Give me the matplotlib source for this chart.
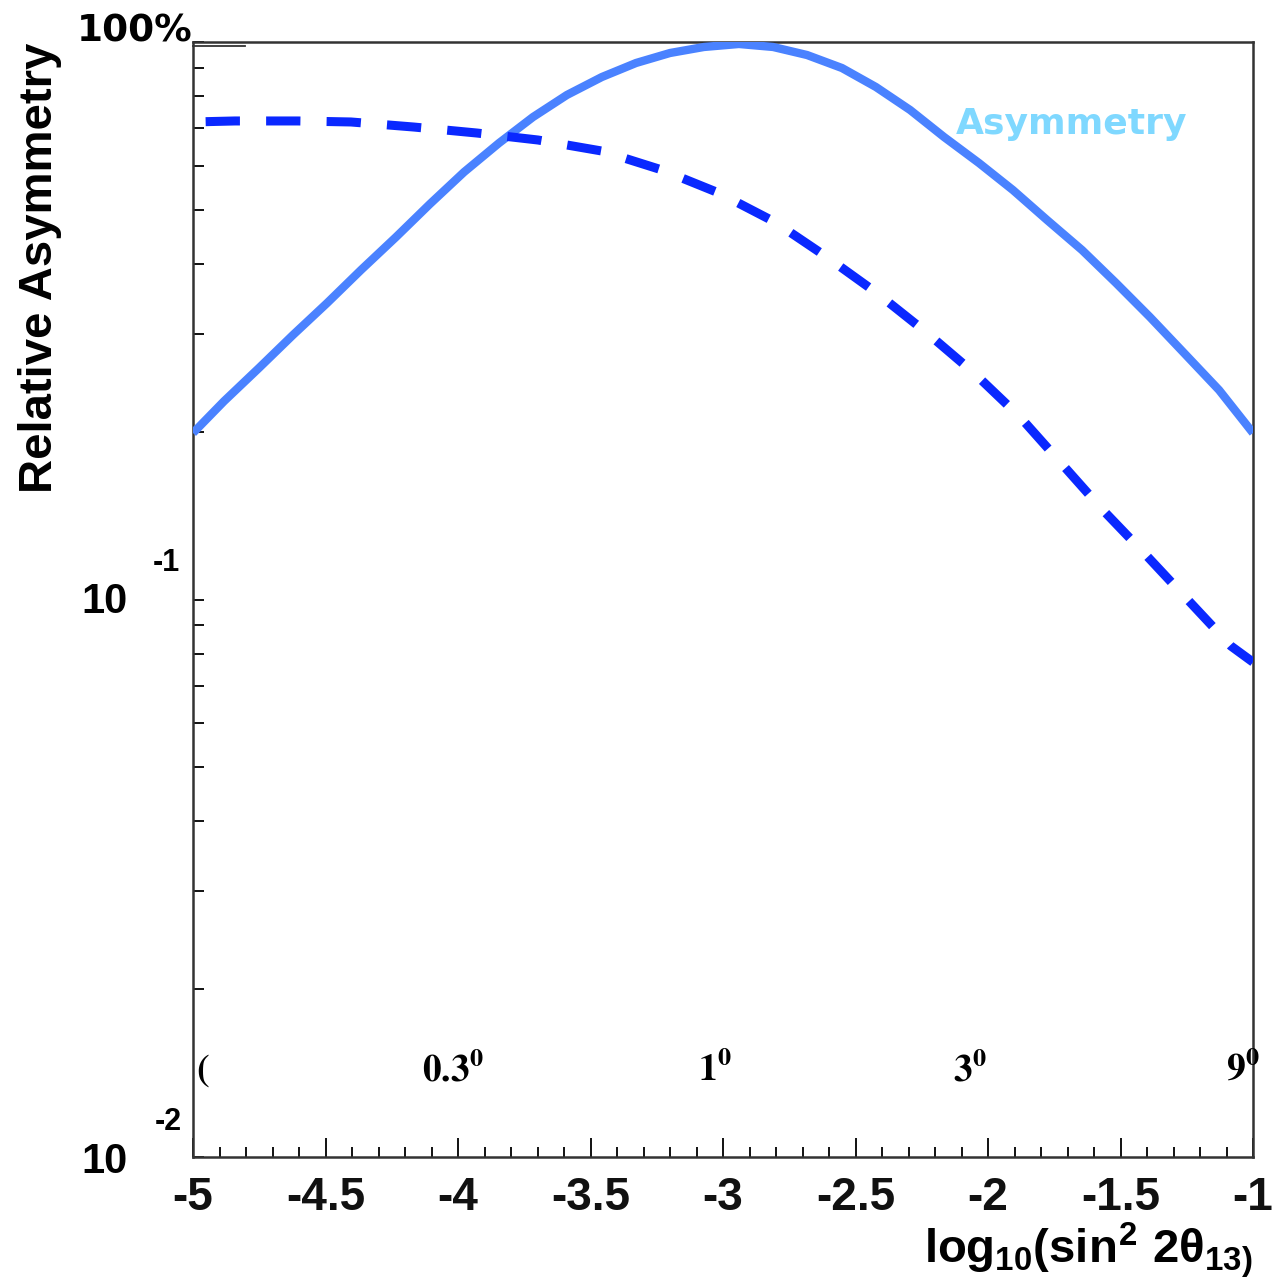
import numpy as np
import matplotlib
matplotlib.use("Agg")
import matplotlib.pyplot as plt
from matplotlib.ticker import MultipleLocator, LogLocator, NullFormatter, FixedLocator
from matplotlib.transforms import blended_transform_factory

plt.rcParams['mathtext.fontset'] = 'custom'
plt.rcParams['mathtext.rm'] = 'Liberation Sans:bold'
plt.rcParams['mathtext.it'] = 'Liberation Sans:bold'
plt.rcParams['mathtext.bf'] = 'Liberation Sans:bold'

# ---- data ----
solid_x = [-5.0, -4.883, -4.751, -4.623, -4.494, -4.366, -4.234, -4.106, -3.977,
           -3.845, -3.717, -3.589, -3.457, -3.328, -3.200, -3.072, -2.94, -2.811,
           -2.683, -2.551, -2.423, -2.294, -2.166, -2.034, -1.906, -1.777, -1.645,
           -1.517, -1.389, -1.260, -1.128, -1.0]
solid_y = [0.1989, 0.2268, 0.2602, 0.2981, 0.3402, 0.3900, 0.4468, 0.5122, 0.5845,
           0.6589, 0.7335, 0.8035, 0.8654, 0.9170, 0.9556, 0.9796, 0.9918, 0.9796,
           0.9477, 0.8981, 0.8304, 0.7552, 0.6755, 0.6066, 0.5426, 0.4793, 0.4234,
           0.3696, 0.3211, 0.2767, 0.2375, 0.1989]

dashed_x = [-5.0, -4.842, -4.604, -4.404, -4.166, -3.928, -3.698, -3.457, -3.230,
            -3.015, -2.804, -2.608, -2.419, -2.230, -2.053, -1.879, -1.728, -1.570,
            -1.404, -1.242, -1.083, -1.0]
dashed_y = [0.7187, 0.7217, 0.7217, 0.7187, 0.7038, 0.6866, 0.6671, 0.6374, 0.5894,
            0.5359, 0.4754, 0.4114, 0.3545, 0.3007, 0.2549, 0.2125, 0.1765, 0.1453,
            0.1202, 0.0994, 0.0825, 0.0772]

xticks_major = [-5, -4.5, -4, -3.5, -3, -2.5, -2, -1.5, -1]
xtick_labels = ['-5', '-4.5', '-4', '-3.5', '-3', '-2.5', '-2', '-1.5', '-1']
angle_pos = [-4.019, -3.03, -2.068, -1.038]
angle_labels = ['0.3', '1', '3', '9']

W, H = 1275, 1282
fig = plt.figure(figsize=(W / 100, H / 100), dpi=100)
L, R, T, B = 193, 1253, 42, 1157
ax = fig.add_axes([L / W, 1 - B / H, (R - L) / W, (B - T) / H])

ax.plot(solid_x, solid_y, color='#4a82ff', lw=6.0, solid_capstyle='butt',
        solid_joinstyle='round', zorder=3)
ax.plot(dashed_x, dashed_y, color='#0a28ff', lw=6.5, linestyle=(5.3, (3.8, 2.9)),
        dash_capstyle='butt', zorder=3)

ax.set_yscale('log')
ax.set_xlim(-5, -1)
ax.set_ylim(0.01, 1.0)

for s in ax.spines.values():
    s.set_color('#333333')
    s.set_linewidth(1.8)

ax.xaxis.set_major_locator(FixedLocator(xticks_major))
ax.xaxis.set_minor_locator(MultipleLocator(0.1))
ax.set_xticklabels(xtick_labels, fontsize=33, fontweight='bold', family='Liberation Sans')
ax.tick_params(axis='x', which='major', direction='in', length=14, width=1.4,
               pad=14, colors='#111111')
ax.tick_params(axis='x', which='minor', direction='in', length=7, width=1.4, colors='#111111')

ax.yaxis.set_major_locator(LogLocator(base=10, numticks=10))
ax.yaxis.set_minor_locator(LogLocator(base=10, subs=np.arange(2, 10), numticks=10))
ax.yaxis.set_major_formatter(NullFormatter())
ax.yaxis.set_minor_formatter(NullFormatter())
ax.tick_params(axis='y', which='major', direction='in', length=8, width=1.4, colors='#111111')
ax.tick_params(axis='y', which='minor', direction='in', length=8, width=1.4, colors='#111111')

# long tick at the top-left (as in the reference)
tr = blended_transform_factory(ax.transAxes, ax.transData)
ax.plot([0, 0.049], [0.985, 0.985], transform=tr, color='#333333', lw=1.3, clip_on=False)

def ftext(x, y, s, **kw):
    fig.text(x / W, 1 - y / H, s, **kw)

ftext(135, 32, '100%', fontsize=27, fontweight='bold', family='DejaVu Sans',
      ha='center', va='center')
ftext(105, 602, '10', fontsize=30, fontweight='bold', family='Liberation Sans',
      ha='center', va='center')
ftext(166, 563, '-1', fontsize=22, fontweight='bold', family='Liberation Sans',
      ha='center', va='center')
ftext(105, 1162, '10', fontsize=30, fontweight='bold', family='Liberation Sans',
      ha='center', va='center')
ftext(168, 1122, '-2', fontsize=22, fontweight='bold', family='Liberation Sans',
      ha='center', va='center')

ftext(40, 268, 'Relative Asymmetry', fontsize=34, fontweight='bold',
      family='Liberation Sans', rotation=90, ha='center', va='center')

ftext(1253, 1250, r'$log_{10}(sin^{2}\ 2\theta_{13)}$', fontsize=34,
      ha='right', va='center')

ftext(1072, 124, 'Asymmetry', fontsize=26, fontweight='bold', color='#7fd8ff',
      family='DejaVu Sans', ha='center', va='center')

# angle labels inside the axes
for xp, lab in zip(angle_pos, angle_labels):
    ax.text(xp, 0.0143, r'$\mathbf{' + lab + '^{0}}$', fontsize=27,
            math_fontfamily='stix', ha='center', va='center')
ax.text(-4.962, 0.0143, r'$\mathbf{(}$', fontsize=27, math_fontfamily='stix',
        ha='center', va='center')

fig.savefig('out.png', dpi=100, facecolor='white')
